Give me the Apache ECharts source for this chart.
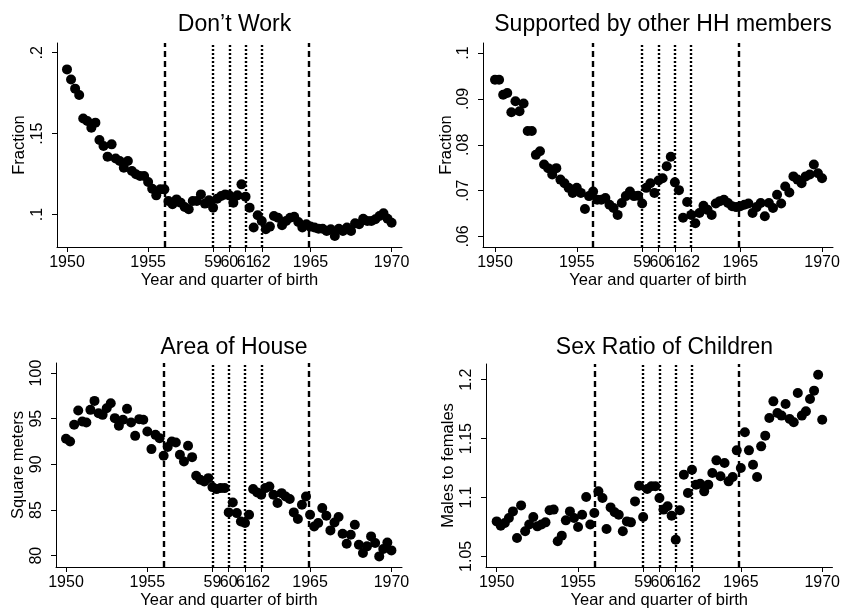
<!DOCTYPE html>
<html>
<head>
<meta charset="utf-8">
<script src="https://cdn.jsdelivr.net/npm/echarts@6/dist/echarts.min.js"></script>
<style>
  html, body { margin: 0; padding: 0; background: #fff; }
  #chart { width: 843px; height: 611px; }
</style>
</head>
<body>
<div id="chart"></div>
<script>
// quarter of birth, 1950q1 .. 1970q1
const quarters = Array.from({ length: 81 }, (_, i) => 1950 + i / 4)

const xTicks = [1950, 1955, 1959, 1960, 1961, 1962, 1965, 1970]
const xTickLabels = ['1950', '1955', '59', '60', '61', '62', '1965', '1970']
const dashedYears = [1956, 1964.9]
const dottedYears = [1959, 1960, 1961, 1962]

const dontWork = [
  .1897, .1835, .1778, .1739, .1594, .1578, .1537, .1568, .1461, .1424,
  .1358, .1434, .1347, .1331, .1290, .1331, .1269, .1249, .1238, .1238,
  .1201, .1160, .1119, .1156, .1156, .1084, .1064, .1094, .1074, .1047,
  .1033, .1084, .1084, .1125, .1068, .1088, .1043, .1098, .1115, .1125,
  .1119, .1074, .1119, .1187, .1111, .1043, .0920, .0996, .0961, .0910,
  .0926, .0991, .0981, .0934, .0961, .0981, .0987, .0954, .0920, .0940,
  .0926, .0920, .0913, .0913, .0899, .0910, .0868, .0913, .0899, .0920,
  .0899, .0946, .0940, .0975, .0961, .0961, .0971, .0991, .1008, .0975,
  .0950
]
const supported = [
  .0942, .0942, .0909, .0913, .0871, .0895, .0873, .0890, .0830, .0830,
  .0778, .0786, .0757, .0749, .0735, .0749, .0724, .0716, .0706, .0695,
  .0706, .0695, .0660, .0688, .0698, .0680, .0680, .0684, .0669, .0662,
  .0647, .0673, .0688, .0698, .0688, .0689, .0672, .0706, .0716, .0695,
  .0722, .0727, .0753, .0774, .0718, .0701, .0641, .0675, .0647, .0629,
  .0651, .0667, .0658, .0647, .0672, .0677, .0680, .0673, .0666, .0664,
  .0666, .0669, .0672, .0651, .0664, .0673, .0644, .0673, .0662, .0691,
  .0672, .0709, .0696, .0731, .0724, .0716, .0731, .0735, .0757, .0738,
  .0727
]
const houseArea = [
  92.80, 92.50, 94.33, 95.90, 94.69, 94.58, 95.97, 96.95, 95.60, 95.42,
  96.15, 96.70, 95.06, 94.22, 94.88, 96.08, 94.58, 93.12, 94.95, 94.88,
  93.60, 91.67, 93.23, 92.87, 90.94, 91.90, 92.50, 92.40, 91.05, 90.32,
  92.03, 90.79, 88.75, 88.31, 88.13, 88.49, 87.51, 87.29, 87.40, 87.40,
  84.74, 85.83, 84.66, 83.75, 83.57, 84.48, 87.29, 86.93, 86.67, 87.40,
  87.58, 86.67, 85.76, 86.85, 86.49, 86.20, 84.74, 84.01, 85.58, 86.49,
  84.48, 83.20, 83.57, 85.21, 84.37, 82.77, 83.64, 84.23, 82.40, 81.31,
  82.29, 83.39, 81.20, 80.29, 81.02, 82.11, 81.38, 79.92, 80.73, 81.45,
  80.58
]
const sexRatio = [
  1.0797, 1.0761, 1.0783, 1.0826, 1.0882, 1.0656, 1.0933, 1.0713, 1.0770, 1.0834,
  1.0755, 1.0770, 1.0789, 1.0891, 1.0897, 1.0628, 1.0676, 1.0806, 1.0882, 1.0826,
  1.0750, 1.0854, 1.1004, 1.0770, 1.0868, 1.1052, 1.0995, 1.0732, 1.0916, 1.0874,
  1.0854, 1.0713, 1.0797, 1.0789, 1.0967, 1.1100, 1.0834, 1.1072, 1.1095, 1.1095,
  1.0995, 1.0897, 1.0925, 1.0846, 1.0642, 1.0891, 1.1194, 1.1038, 1.1236, 1.1109,
  1.1117, 1.1052, 1.1109, 1.1208, 1.1315, 1.1180, 1.1293, 1.1137, 1.1174, 1.1400,
  1.1250, 1.1553, 1.1400, 1.1278, 1.1174, 1.1434, 1.1525, 1.1675, 1.1816, 1.1717,
  1.1695, 1.1793, 1.1666, 1.1638, 1.1887, 1.1695, 1.1731, 1.1836, 1.1907, 1.2042,
  1.1660
]

const FONT = "'Liberation Sans', Arial, sans-serif"

// one entry per panel
const panels = [
  { title: 'Don\u2019t Work', yName: 'Fraction', values: dontWork,
    grid: { left: 57, top: 43, width: 345, height: 204 }, titleTop: 8,
    xMin: 1949.384, xMax: 1970.64, yMin: 0.080, yMax: 0.206, yNameGap: 29,
    yTicks: [0.1, 0.15, 0.2], yLabels: ['.1', '.15', '.2'] },
  { title: 'Supported by other HH members', yName: 'Fraction', values: supported,
    grid: { left: 483, top: 43, width: 350, height: 204 }, titleTop: 8,
    xMin: 1949.266, xMax: 1970.67, yMin: 0.0577, yMax: 0.1022, yNameGap: 26,
    yTicks: [0.06, 0.07, 0.08, 0.09, 0.1], yLabels: ['.06', '.07', '.08', '.09', '.1'] },
  { title: 'Area of House', yName: 'Square meters', values: houseArea,
    grid: { left: 56, top: 363, width: 346, height: 204 }, titleTop: 331,
    xMin: 1949.385, xMax: 1970.65, yMin: 78.76, yMax: 101.1, yNameGap: 29,
    yTicks: [80, 85, 90, 95, 100], yLabels: ['80', '85', '90', '95', '100'] },
  { title: 'Sex Ratio of Children', yName: 'Males to females', values: sexRatio,
    grid: { left: 486, top: 364, width: 347, height: 203 }, titleTop: 331,
    xMin: 1949.344, xMax: 1970.63, yMin: 1.041, yMax: 1.2133, yNameGap: 29,
    yTicks: [1.05, 1.1, 1.15, 1.2], yLabels: ['1.05', '1.1', '1.15', '1.2'] }
]

const axisLine = { show: true, lineStyle: { color: '#000', width: 1 } }
const axisTick = { show: true, inside: false, length: 5, lineStyle: { color: '#000', width: 1 } }

const option = {
  animation: false,
  backgroundColor: '#fff',
  textStyle: { fontFamily: FONT, color: '#000' },
  title: panels.map(p => ({
    text: p.title,
    left: p.grid.left + p.grid.width / 2,
    top: p.titleTop,
    textAlign: 'center',
    textStyle: { fontFamily: FONT, fontSize: 23, fontWeight: 'normal', color: '#000' }
  })),
  grid: panels.map(p => p.grid),
  xAxis: panels.map((p, i) => ({
    type: 'value',
    gridIndex: i,
    min: p.xMin,
    max: p.xMax,
    name: 'Year and quarter of birth',
    nameLocation: 'middle',
    nameGap: 25,
    nameTextStyle: { fontFamily: FONT, fontSize: 16.5, color: '#000' },
    axisLine,
    axisTick: { ...axisTick, customValues: xTicks },
    axisLabel: {
      customValues: xTicks,
      formatter: v => xTickLabels[xTicks.indexOf(v)],
      fontFamily: FONT, fontSize: 16, color: '#000', margin: 8
    },
    splitLine: { show: false }
  })),
  yAxis: panels.map((p, i) => ({
    type: 'value',
    gridIndex: i,
    min: p.yMin,
    max: p.yMax,
    name: p.yName,
    nameLocation: 'middle',
    nameGap: p.yNameGap,
    nameTextStyle: { fontFamily: FONT, fontSize: 16.5, color: '#000' },
    axisLine,
    axisTick: { ...axisTick, customValues: p.yTicks },
    axisLabel: {
      customValues: p.yTicks,
      formatter: v => p.yLabels[p.yTicks.findIndex(t => Math.abs(t - v) < 1e-9)],
      rotate: 90,
      fontFamily: FONT, fontSize: 16, color: '#000', margin: 11
    },
    splitLine: { show: false }
  })),
  series: panels.map((p, i) => ({
    type: 'scatter',
    xAxisIndex: i,
    yAxisIndex: i,
    data: quarters.map((q, k) => [q, p.values[k]]),
    symbol: 'circle',
    symbolSize: 10,
    itemStyle: { color: '#000', opacity: 1 },
    silent: true,
    markLine: {
      silent: true,
      symbol: 'none',
      label: { show: false },
      data: [
        ...dashedYears.map(y => ({ xAxis: y, lineStyle: { type: [6, 4], width: 2.4, color: '#000' } })),
        ...dottedYears.map(y => ({ xAxis: y, lineStyle: { type: [2, 2], width: 2.4, color: '#000' } }))
      ]
    }
  }))
}

const chart = echarts.init(document.getElementById('chart'), null, { renderer: 'canvas' })
chart.setOption(option)
</script>
</body>
</html>
